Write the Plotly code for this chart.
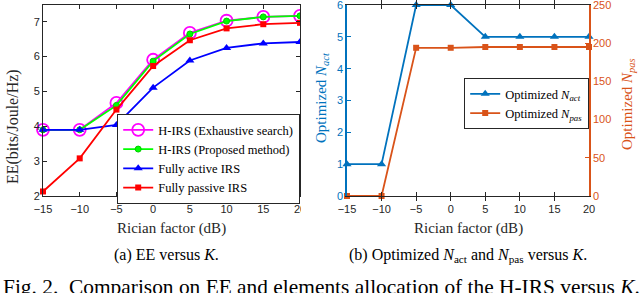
import plotly.graph_objects as go

# ---------------- data ----------------
rician_db = [-15, -10, -5, 0, 5, 10, 15, 20]
ee_exhaustive = [3.90, 3.90, 4.67, 5.91, 6.68, 7.03, 7.14, 7.17]
ee_proposed = [3.90, 3.90, 4.60, 5.87, 6.65, 7.02, 7.14, 7.17]
ee_active = [3.90, 3.90, 4.04, 5.11, 5.89, 6.25, 6.38, 6.42]
ee_passive = [2.13, 3.08, 4.48, 5.73, 6.47, 6.81, 6.93, 6.97]
n_act = [1, 1, 6, 6, 5, 5, 5, 5]
n_pas = [0, 0, 194, 194, 195, 195, 195, 195]
x_ticks = [-15, -10, -5, 0, 5, 10, 15, 20]
ee_ticks = [2, 3, 4, 5, 6, 7]
nact_ticks = [0, 1, 2, 3, 4, 5, 6]
npas_ticks = [0, 50, 100, 150, 200, 250]

W, H = 640, 293
SERIF = "Liberation Serif, Times New Roman, serif"
SANS = "Liberation Sans, Arial, sans-serif"
DARK = "#262626"
BLUE_M = "#0072BD"
ORANGE_M = "#D95319"


def px(x):
    return x / W


def py(y):
    return 1 - y / H


fig = go.Figure()

fig.add_trace(go.Scatter(x=rician_db, y=ee_exhaustive, name="H-IRS (Exhaustive search)",
                         mode="lines+markers", line=dict(color="#FF00FF", width=1.8),
                         marker=dict(symbol="circle-open", size=12, line=dict(width=1.8, color="#FF00FF")),
                         xaxis="x", yaxis="y", cliponaxis=False, legend="legend"))
fig.add_trace(go.Scatter(x=rician_db, y=ee_proposed, name="H-IRS (Proposed method)",
                         mode="lines+markers", line=dict(color="#00FF00", width=1.8),
                         marker=dict(symbol="circle", size=6, color="#00FF00", line=dict(width=1, color="#00CC00")),
                         xaxis="x", yaxis="y", cliponaxis=False, legend="legend"))
fig.add_trace(go.Scatter(x=rician_db, y=ee_active, name="Fully active IRS",
                         mode="lines+markers", line=dict(color="#0000FF", width=1.8),
                         marker=dict(symbol="triangle-up", size=8, color="#0000FF"),
                         xaxis="x", yaxis="y", cliponaxis=False, legend="legend"))
fig.add_trace(go.Scatter(x=rician_db, y=ee_passive, name="Fully passive IRS",
                         mode="lines+markers", line=dict(color="#FF0000", width=1.8),
                         marker=dict(symbol="square", size=6, color="#FF0000"),
                         xaxis="x", yaxis="y", cliponaxis=False, legend="legend"))

fig.add_trace(go.Scatter(x=rician_db, y=n_act, name="Optimized <i>N<sub>act</sub></i>",
                         mode="lines+markers", line=dict(color=BLUE_M, width=1.8),
                         marker=dict(symbol="triangle-up", size=8, color=BLUE_M),
                         xaxis="x2", yaxis="y3", cliponaxis=False, legend="legend2"))
fig.add_trace(go.Scatter(x=rician_db, y=n_pas, name="Optimized <i>N<sub>pas</sub></i>",
                         mode="lines+markers", line=dict(color=ORANGE_M, width=1.8),
                         marker=dict(symbol="square", size=6, color=ORANGE_M),
                         xaxis="x2", yaxis="y4", cliponaxis=False, legend="legend2"))

tickfont = dict(family=SANS, size=11, color=DARK)
common_x = dict(range=[-15, 20], tickvals=x_ticks, ticks="inside", ticklen=4, tickcolor=DARK,
                showline=True, linecolor=DARK, linewidth=1, mirror="allticks", showgrid=False,
                zeroline=False, tickfont=tickfont, ticklabelstandoff=3, automargin=False,
                ticklabeloverflow="allow")
y_dom = [py(196), py(4.7)]

fig.update_layout(
    width=W, height=H, margin=dict(l=0, r=0, t=0, b=0, pad=0, autoexpand=False),
    paper_bgcolor="white", plot_bgcolor="white", showlegend=True,
    xaxis=dict(domain=[px(43), px(300)], anchor="y", **common_x),
    yaxis=dict(domain=y_dom, anchor="x", range=[2, 7.49], tickvals=ee_ticks, ticks="inside",
               ticklen=4, tickcolor=DARK, showline=True, linecolor=DARK, linewidth=1,
               mirror="allticks", showgrid=False, zeroline=False, tickfont=tickfont, automargin=False,
               ticklabeloverflow="allow"),
    xaxis2=dict(domain=[px(347), px(589)], anchor="y3", **common_x),
    yaxis3=dict(domain=[py(196), py(5)], anchor="x2", range=[0, 6], tickvals=nact_ticks,
                ticks="inside", ticklen=4, tickcolor=BLUE_M, showline=True, linecolor=BLUE_M,
                linewidth=1.5, showgrid=False, zeroline=False, automargin=False,
                ticklabeloverflow="allow",
                tickfont=dict(family=SANS, size=11, color=BLUE_M)),
    yaxis4=dict(overlaying="y3", side="right", anchor="x2", range=[0, 250], tickvals=npas_ticks,
                ticks="inside", ticklen=4, tickcolor=ORANGE_M, showline=True, linecolor=ORANGE_M,
                linewidth=1.5, showgrid=False, zeroline=False, automargin=False,
                ticklabeloverflow="allow",
                tickfont=dict(family=SANS, size=11, color=ORANGE_M)),
    legend=dict(x=px(117), y=py(114), xanchor="left", yanchor="top", bgcolor="white",
                bordercolor=DARK, borderwidth=1.2, font=dict(family=SERIF, size=12.5, color="black"),
                tracegroupgap=0, itemwidth=30),
    legend2=dict(x=px(464), y=py(78), xanchor="left", yanchor="top", bgcolor="white",
                 bordercolor=DARK, borderwidth=1.2, font=dict(family=SERIF, size=12.5, color="black"),
                 tracegroupgap=0, itemwidth=30),
)

# white mask imitating the crop of the left panel
fig.add_shape(type="rect", xref="paper", yref="paper", x0=px(301), x1=px(313), y0=py(218), y1=py(0),
              fillcolor="white", line=dict(width=0), layer="above")

ann = []


def add_text(text, x, y, size, color="black", angle=0, xanchor="center"):
    ann.append(dict(text=text, x=x, y=y, xref="paper", yref="paper", showarrow=False,
                    xanchor=xanchor, yanchor="middle", textangle=angle,
                    font=dict(family=SERIF, size=size, color=color)))


add_text("EE(bits/Joule/Hz)", px(13), py(127), 16, DARK, -90)
add_text("Rician factor (dB)", px(171.5), py(228), 15, DARK)
add_text("Optimized <i>N<sub>act</sub></i>", px(322), py(98), 15, BLUE_M, -90)
add_text("Optimized <i>N<sub>pas</sub></i>", px(628), py(104), 15, ORANGE_M, -90)
add_text("Rician factor (dB)", px(468), py(228), 15, DARK)
add_text("(a) EE versus <i>K</i>.", px(166), py(255), 16)
add_text("(b) Optimized <i>N</i><sub>act</sub> and <i>N</i><sub>pas</sub> versus <i>K</i>.", px(468), py(255), 16)
add_text("Fig. 2.&nbsp;&nbsp;Comparison on EE and elements allocation of the H-IRS versus <i>K</i>.",
         px(1), py(287), 21.4, xanchor="left")
fig.update_layout(annotations=ann)

fig.write_html("out.html", config={"displayModeBar": False},
               post_script="document.body.style.margin='0px';")
